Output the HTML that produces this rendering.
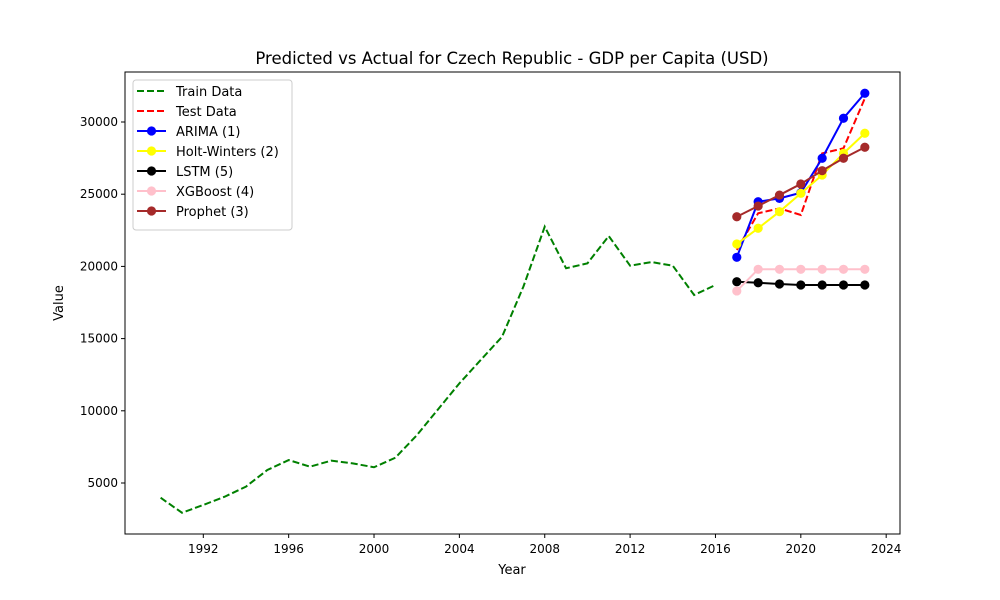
<!DOCTYPE html>
<html><head><meta charset="utf-8"><style>
body{margin:0;background:#fff;}
svg{display:block;font-family:"DejaVu Sans","Liberation Sans",sans-serif;}
</style></head><body>
<svg id="chart" width="1000" height="600" viewBox="0 0 1000 600" xmlns="http://www.w3.org/2000/svg">
<rect width="1000" height="600" fill="#fff"/>
<text x="512" y="64" font-size="16.5" text-anchor="middle">Predicted vs Actual for Czech Republic - GDP per Capita (USD)</text>
<text x="512" y="574" font-size="13" text-anchor="middle">Year</text>
<text x="63" y="303" font-size="13" text-anchor="middle" transform="rotate(-90 63 303)">Value</text>
<g id="plot"></g>
<rect x="125" y="72" width="775" height="462" fill="none" stroke="#000" stroke-width="1"/>
<g id="legend"></g>
</svg>
<script>
const trainYears=[1990,1991,1992,1993,1994,1995,1996,1997,1998,1999,2000,2001,2002,2003,2004,2005,2006,2007,2008,2009,2010,2011,2012,2013,2014,2015,2016];
const trainValues=[3980,2940,3480,4050,4750,5900,6590,6130,6550,6360,6090,6750,8300,10100,11900,13520,15130,18600,22750,19870,20210,22100,20050,20300,20050,18020,18710];
const testYears=[2017,2018,2019,2020,2021,2022,2023];
const testValues=[21140,23680,24020,23560,27830,28180,31640];
const arimaValues=[20630,24480,24710,25100,27490,30260,31990];
const hwValues=[21550,22640,23790,25060,26330,27830,29220];
const lstmValues=[18940,18870,18780,18710,18710,18710,18710];
const xgbValues=[18300,19800,19800,19800,19800,19800,19800];
const prophetValues=[23440,24180,24940,25710,26630,27490,28250];
const xTicks=[1992,1996,2000,2004,2008,2012,2016,2020,2024];
const yTicks=[5000,10000,15000,20000,25000,30000];

const NS="http://www.w3.org/2000/svg";
const xs=y=>203.3+(y-1992)*21.34;
const ys=v=>483-(v-5000)/5000*72.2;
const plot=document.getElementById('plot');
function mk(tag,attrs,parent){const e=document.createElementNS(NS,tag);for(const k in attrs)e.setAttribute(k,attrs[k]);(parent||plot).appendChild(e);return e;}

xTicks.forEach(t=>{
  const g=mk('g',{});
  
  
  mk('line',{x1:xs(t),x2:xs(t),y1:534,y2:538,stroke:'#000'},g);
  const tx=mk('text',{x:xs(t),y:553,'font-size':12,'text-anchor':'middle'},g);tx.textContent=t;
});
yTicks.forEach(t=>{
  const g=mk('g',{});
  
  
  mk('line',{x1:121,x2:125,y1:ys(t),y2:ys(t),stroke:'#000'},g);
  const tx=mk('text',{x:118,y:ys(t)+4,'font-size':12,'text-anchor':'end'},g);tx.textContent=t;
});

function series(name,years,vals,color,dashed,markers){
  const g=mk('g',{});
  
  
  const pts=years.map((y,i)=>xs(y)+','+ys(vals[i])).join(' ');
  const a={points:pts,fill:'none',stroke:color,'stroke-width':2};
  if(dashed)a['stroke-dasharray']='7,3';
  mk('polyline',a,g);
  if(markers)years.forEach((y,i)=>{
    const c=mk('circle',{cx:xs(y),cy:ys(vals[i]),r:4.6,fill:color},g);
    
    
  });
}
series('train-data-line',trainYears,trainValues,'green',true,false);
series('test-data-line',testYears,testValues,'red',true,false);
series('arima-line',testYears,arimaValues,'blue',false,true);
series('holt-winters-line',testYears,hwValues,'yellow',false,true);
series('lstm-line',testYears,lstmValues,'black',false,true);
series('xgboost-line',testYears,xgbValues,'pink',false,true);
series('prophet-line',testYears,prophetValues,'brown',false,true);

const lg=document.getElementById('legend');
const box=mk('rect',{x:133,y:80,width:159,height:150,rx:3,fill:'#fff','fill-opacity':0.85,stroke:'#ccc'},lg);


const entries=[['Train Data','green',true,false],['Test Data','red',true,false],['ARIMA (1)','blue',false,true],['Holt-Winters (2)','yellow',false,true],['LSTM (5)','black',false,true],['XGBoost (4)','pink',false,true],['Prophet (3)','brown',false,true]];
entries.forEach((e,i)=>{
  const y=91+i*20;
  const g=mk('g',{},lg);
  
  
  const a={x1:137,x2:166,y1:y,y2:y,stroke:e[1],'stroke-width':2};
  if(e[2])a['stroke-dasharray']='7,3';
  mk('line',a,g);
  if(e[3])mk('circle',{cx:151.5,cy:y,r:4.6,fill:e[1]},g);
  const t=mk('text',{x:176,y:y+5,'font-size':13},g);t.textContent=e[0];
});
</script>
</body></html>
